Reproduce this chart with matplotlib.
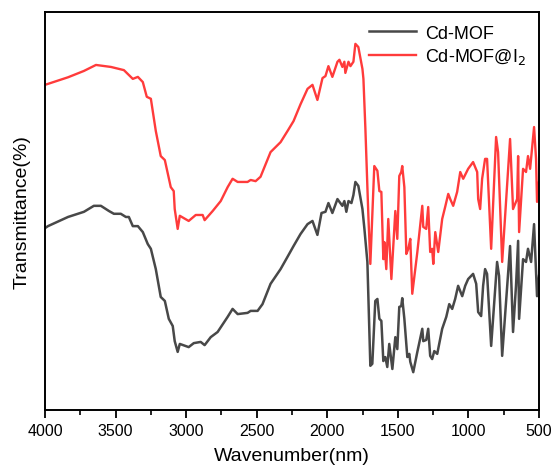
import matplotlib
matplotlib.use("Agg")
import matplotlib.pyplot as plt
from matplotlib.ticker import MultipleLocator

plt.rcParams['font.family'] = ['Liberation Sans', 'DejaVu Sans']

# Cd-MOF (grey curve), wavenumber in cm-1 and transmittance (arbitrary %)
wn_mof = [4000, 3979, 3837, 3724, 3654, 3604, 3547, 3512, 3463, 3427, 3406, 3378, 3342,
          3307, 3272, 3250, 3215, 3180, 3151, 3123, 3095, 3081, 3060, 3045, 2982, 2946,
          2897, 2869, 2826, 2777, 2706, 2671, 2635, 2565, 2543, 2494, 2459, 2402, 2331,
          2280, 2239, 2190, 2140, 2105, 2070, 2041, 2013, 1992, 1964, 1928, 1914, 1893, 1879, 1865,
          1850, 1829, 1815, 1801, 1780, 1751, 1737, 1716, 1695, 1681, 1660, 1645, 1631,
          1617, 1603, 1589, 1575, 1561, 1539, 1518, 1504, 1490, 1476, 1469, 1454, 1433,
          1419, 1412, 1391, 1362, 1327, 1320, 1299, 1285, 1271, 1257, 1242, 1221, 1186,
          1157, 1136, 1115, 1094, 1073, 1044, 1023, 1002, 967, 945, 931, 910, 896, 882,
          868, 839, 797, 783, 761, 705, 684, 663, 648, 641, 613, 592, 578, 556, 535, 514, 500]
t_mof = [45.7, 46.2, 48.5, 49.8, 51.3, 51.3, 50.0, 49.3, 49.3, 48.5, 48.5, 46.2, 46.2,
         44.7, 41.7, 40.5, 35.4, 28.4, 27.4, 22.9, 21.1, 17.3, 14.6, 16.6, 15.8, 16.8,
         17.1, 16.3, 18.3, 19.6, 23.4, 25.4, 24.1, 24.4, 24.9, 24.9, 26.6, 31.7, 35.4,
         38.6, 41.2, 44.2, 46.7, 47.5, 44.0, 49.5, 49.8, 52.0, 49.5, 53.0, 52.3, 51.3, 52.5, 49.8,
         52.5, 52.0, 54.0, 57.3, 56.3, 50.5, 45.5, 37.2, 11.1, 11.6, 27.4, 27.9, 22.9,
         22.4, 12.3, 13.3, 10.8, 16.6, 10.3, 18.3, 15.3, 25.9, 26.1, 28.1, 22.9, 13.3,
         14.1, 12.1, 9.5, 14.6, 20.4, 17.3, 17.6, 20.4, 13.6, 12.8, 14.8, 14.1, 20.4,
         23.4, 26.6, 25.4, 27.9, 31.2, 28.6, 31.2, 32.9, 34.2, 31.7, 24.6, 23.6, 31.2, 35.4,
         34.2, 16.1, 37.2, 33.7, 13.6, 41.2, 19.6, 31.2, 42.5, 22.9, 37.9, 37.2, 40.5, 37.2, 46.7, 28.6, 33.7]

# Cd-MOF@I2 (red curve)
wn_i2 = [4000, 3837, 3724, 3639, 3533, 3441, 3378, 3342, 3307, 3279, 3250, 3215, 3180,
         3151, 3109, 3088, 3081, 3060, 3045, 2982, 2932, 2883, 2869, 2812, 2755, 2706,
         2671, 2635, 2565, 2543, 2508, 2473, 2402, 2331, 2280, 2239, 2190, 2140, 2105, 2070, 2034,
         2013, 1992, 1964, 1928, 1914, 1893, 1879, 1872, 1850, 1836, 1815, 1801, 1780,
         1751, 1744, 1730, 1709, 1695, 1667, 1645, 1631, 1617, 1603, 1596, 1582, 1568,
         1546, 1518, 1504, 1490, 1476, 1469, 1454, 1440, 1426, 1412, 1398, 1362, 1327,
         1320, 1299, 1285, 1271, 1257, 1249, 1235, 1214, 1186, 1165, 1143, 1129, 1108,
         1080, 1058, 1037, 1002, 967, 938, 931, 917, 903, 882, 868, 839, 804, 790, 761,
         705, 684, 655, 648, 641, 613, 592, 578, 563, 535, 521, 514, 500]
t_i2 = [81.7, 83.6, 85.2, 86.7, 86.2, 85.4, 83.2, 83.7, 82.4, 78.7, 78.2, 70.1, 63.8,
        62.8, 56.0, 55.0, 50.5, 45.5, 48.8, 47.5, 49.0, 49.0, 47.7, 50.0, 52.5, 56.0,
        58.1, 57.3, 57.3, 57.8, 57.5, 58.6, 64.8, 67.3, 70.2, 72.6, 76.8, 80.7, 81.7, 77.9, 83.4,
        83.9, 86.4, 83.7, 87.5, 88.0, 86.2, 87.5, 84.7, 87.5, 86.4, 87.5, 92.0, 91.2,
        85.7, 83.2, 70.6, 48.8, 36.7, 61.3, 60.1, 55.0, 54.8, 37.9, 42.2, 35.4, 48.0,
        32.9, 50.0, 43.0, 58.8, 59.8, 61.3, 56.0, 39.2, 40.5, 43.0, 29.2, 39.7, 51.3,
        46.0, 45.5, 51.0, 39.7, 40.5, 36.7, 44.7, 39.7, 48.0, 51.0, 54.3, 53.0, 51.3,
        54.8, 59.8, 58.1, 60.6, 62.3, 59.8, 53.0, 50.5, 58.1, 63.1, 63.1, 40.5, 68.6, 64.8, 37.2,
        68.1, 50.5, 53.0, 63.8, 44.7, 60.6, 59.8, 63.8, 60.6, 71.1, 63.1, 52.3, 57.3]

fig = plt.figure(figsize=(5.57, 4.77), dpi=100)
ax = fig.add_axes([0.0808, 0.1384, 0.8869, 0.8343])

ax.plot(wn_mof, t_mof, color='#484848', lw=1.8, label='Cd-MOF')
ax.plot(wn_i2, t_i2, color='#ff3b3b', lw=1.7, label='Cd-MOF@I$_2$')

ax.set_xlim(4000, 500)
ax.set_ylim(0, 100)
ax.xaxis.set_major_locator(MultipleLocator(500))
ax.xaxis.set_minor_locator(MultipleLocator(250))
ax.tick_params(axis='x', which='major', direction='out', length=6, width=1.3, labelsize=11.5)
ax.tick_params(axis='x', which='minor', direction='out', length=3.5, width=1.2)
ax.set_yticks([])
for s in ax.spines.values():
    s.set_linewidth(1.4)

ax.set_xlabel('Wavenumber(nm)', fontsize=14, labelpad=6)
ax.set_ylabel('Transmittance(%)', fontsize=14, labelpad=10)

ax.legend(loc='upper right', frameon=False, fontsize=13, handlelength=2.6,
          borderaxespad=0.3, labelspacing=0.25, handletextpad=0.5)

fig.savefig('out.png', dpi=100)
